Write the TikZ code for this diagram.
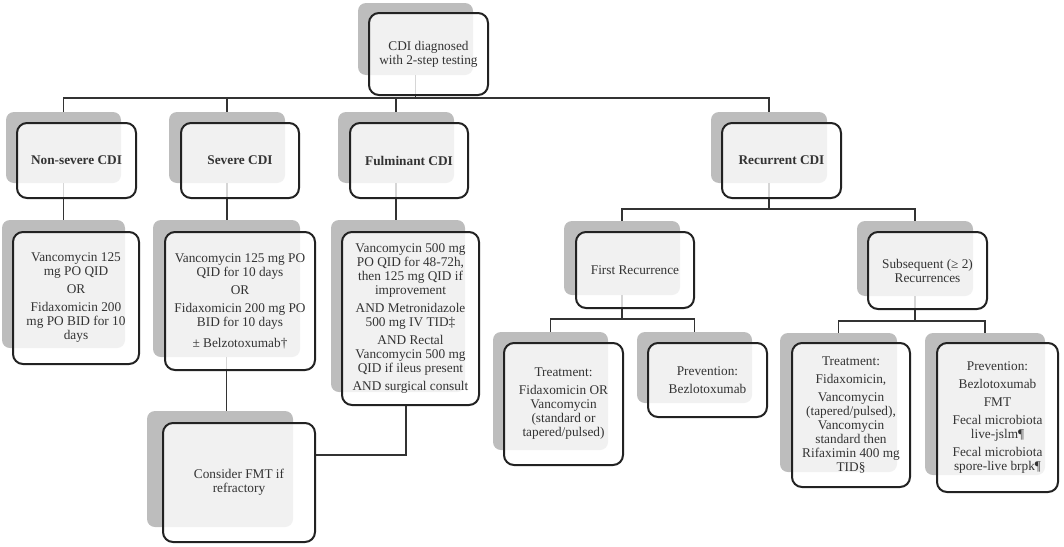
\documentclass[tikz,border=0pt]{standalone}
\usepackage{fontspec}
\setmainfont{Liberation Serif}
\definecolor{shadowgray}{HTML}{BDBDBD}
\definecolor{boxline}{HTML}{222222}
\definecolor{lineclr}{HTML}{333333}
\definecolor{txt}{HTML}{333333}
\tikzset{
  shad/.style={rectangle, rounded corners=8pt, fill=shadowgray, inner sep=0pt},
  front/.style={rectangle, rounded corners=10pt, draw=boxline, line width=2pt,
    fill=white, fill opacity=0.8, text opacity=1, text=txt, align=center,
    inner sep=0pt, font=\fontsize{13.3}{14}\selectfont},
  conn/.style={draw=lineclr, line width=1.6pt},
}
\newcommand\pg{\\[4pt]}
\begin{document}
\begin{tikzpicture}[x=1pt,y=-1pt]
\useasboundingbox (0,0) rectangle (1064,546);
% ---------- shadows ----------
\node[shad, minimum width=115pt, minimum height=72pt]  (top-s)  at (415.5,39) {};
\node[shad, minimum width=115pt, minimum height=71pt]  (ns-s)   at (63.5,147.5) {};
\node[shad, minimum width=116pt, minimum height=71pt]  (sev-s)  at (227,147.5) {};
\node[shad, minimum width=116pt, minimum height=71pt]  (ful-s)  at (396,147.5) {};
\node[shad, minimum width=116pt, minimum height=71pt]  (rec-s)  at (769,147.5) {};
\node[shad, minimum width=123pt, minimum height=128pt] (nsd-s)  at (63.5,284) {};
\node[shad, minimum width=147pt, minimum height=137pt] (sevd-s) at (226.5,288.5) {};
\node[shad, minimum width=134pt, minimum height=172pt] (fuld-s) at (398,306) {};
\node[shad, minimum width=146pt, minimum height=116pt] (fmt-s)  at (220,469) {};
\node[shad, minimum width=116pt, minimum height=74pt]  (r1-s)   at (622,258) {};
\node[shad, minimum width=116pt, minimum height=75pt]  (rs-s)   at (915,258.5) {};
\node[shad, minimum width=115pt, minimum height=118pt] (t1-s)   at (550.5,391) {};
\node[shad, minimum width=115pt, minimum height=71pt]  (p1-s)   at (694.5,367.5) {};
\node[shad, minimum width=117pt, minimum height=139pt] (t2-s)   at (838.5,402.5) {};
\node[shad, minimum width=120pt, minimum height=142pt] (p2-s)   at (985,404) {};
% ---------- bus coordinates ----------
\coordinate (bus1) at (0,98);
\coordinate (bus2) at (0,209);
\coordinate (bus3) at (0,319);
\coordinate (bus4) at (0,321);
% ---------- connectors ----------
\draw[conn] (top-s.south) -- (top-s.south |- bus1);
\draw[conn] (ns-s.north) -- (ns-s.north |- bus1) -- (rec-s.north |- bus1) -- (rec-s.north);
\draw[conn] (sev-s.north) -- (sev-s.north |- bus1);
\draw[conn] (ful-s.north) -- (ful-s.north |- bus1);
\draw[conn] (ns-s.south) -- (nsd-s.north);
\draw[conn] (sev-s.south) -- (sev-s.south |- sevd-s.north);
\draw[conn] (ful-s.south) -- (ful-s.south |- fuld-s.north);
\draw[conn] (sevd-s.south) -- (sevd-s.south |- fmt-s.north);
\draw[conn] (rec-s.south) -- (rec-s.south |- bus2);
\draw[conn] (r1-s.north) -- (r1-s.north |- bus2) -- (rs-s.north |- bus2) -- (rs-s.north);
\draw[conn] (r1-s.south) -- (r1-s.south |- bus3);
\draw[conn] (t1-s.north) -- (t1-s.north |- bus3) -- (p1-s.north |- bus3) -- (p1-s.north);
\draw[conn] (rs-s.south) -- (rs-s.south |- bus4);
\draw[conn] (t2-s.north) -- (t2-s.north |- bus4) -- (p2-s.north |- bus4) -- (p2-s.north);
% ---------- front boxes ----------
\node[front, minimum width=119pt, minimum height=82pt] (top) at (428.5,54)
  {CDI diagnosed\\with 2-step testing};
\node[front, minimum width=119pt, minimum height=75pt] (ns) at (76.5,160.5)
  {\textbf{Non-severe CDI}};
\node[front, minimum width=118pt, minimum height=75pt] (sev) at (240,160.5)
  {\textbf{Severe CDI}};
\node[front, minimum width=118pt, minimum height=75pt] (ful) at (409,160.5)
  {\textbf{Fulminant CDI}};
\node[front, minimum width=119pt, minimum height=75pt] (rec) at (781.5,160.5)
  {\textbf{Recurrent CDI}};
\node[front, minimum width=126pt, minimum height=132pt] (nsd) at (76,298)
  {Vancomycin 125\\mg PO QID\pg OR\pg Fidaxomicin 200\\mg PO BID for 10\\days};
\node[front, minimum width=150pt, minimum height=138pt] (sevd) at (240,301)
  {Vancomycin 125 mg PO\\QID for 10 days\pg OR\pg Fidaxomicin 200 mg PO\\BID for 10 days\\[7pt]± Belzotoxumab†};
\node[front, minimum width=137pt, minimum height=173pt] (fuld) at (410.5,318.5)
  {Vancomycin 500 mg\\PO QID for 48-72h,\\then 125 mg QID if\\improvement\pg AND Metronidazole\\500 mg IV TID‡\pg AND Rectal\\Vancomycin 500 mg\\QID if ileus present\pg AND surgical consult};
\node[front, minimum width=152pt, minimum height=119pt] (fmt) at (239,482.5)
  {Consider FMT if\\refractory};
\node[front, minimum width=118pt, minimum height=76pt] (r1) at (635,270)
  {First Recurrence};
\node[front, minimum width=119pt, minimum height=77pt] (rs) at (927.5,270.5)
  {Subsequent (≥ 2)\\Recurrences};
\node[front, minimum width=119pt, minimum height=122pt] (t1) at (563.5,404)
  {Treatment:\pg Fidaxomicin OR\\Vancomycin\\(standard or\\tapered/pulsed)};
\node[front, minimum width=119pt, minimum height=74pt] (p1) at (707.5,380)
  {Prevention:\pg Bezlotoxumab};
\node[front, minimum width=118pt, minimum height=144pt] (t2) at (851,415)
  {Treatment:\pg Fidaxomicin,\pg Vancomycin\\(tapered/pulsed),\\Vancomycin\\standard then\\Rifaximin 400 mg\\TID§};
\node[front, minimum width=121pt, minimum height=149pt] (p2) at (997.5,417.5)
  {Prevention:\pg Bezlotoxumab\pg FMT\pg Fecal microbiota\\live-jslm¶\pg Fecal microbiota\\spore-live brpk¶};
% ---------- connector Fulminant -> FMT ----------
\coordinate (elbow) at (406,455);
\draw[conn] (fuld.south -| elbow) -- (elbow) -- (elbow -| fmt.east);
\end{tikzpicture}
\end{document}
